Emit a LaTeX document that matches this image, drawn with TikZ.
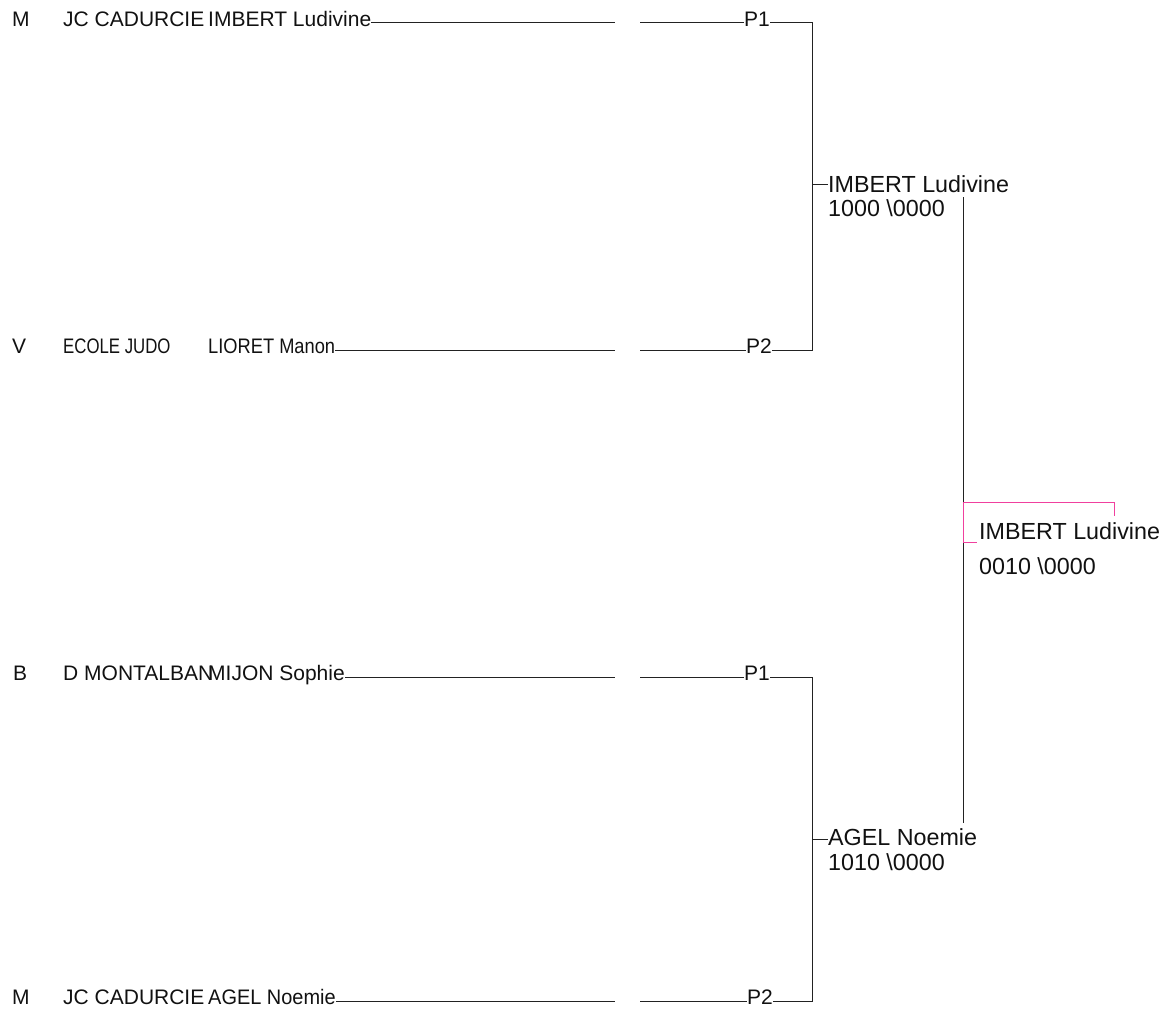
\documentclass[tikz,border=0pt]{standalone}
\usepackage{fontspec}
\setmainfont{Liberation Sans}
\usepackage{xcolor}
\usepackage{graphicx}
\usetikzlibrary{calc}
\definecolor{ink}{HTML}{111111}
\definecolor{wirecol}{HTML}{222222}
\definecolor{winpink}{HTML}{F0409E}
\tikzset{
  every node/.style={inner sep=0pt,anchor=base west,text=ink},
  rowtext/.style={font=\fontsize{21}{25}\selectfont},
  seed/.style={rowtext},
  club/.style={rowtext},
  fighter/.style={rowtext},
  pool/.style={rowtext},
  result/.style={font=\fontsize{23.3}{28}\selectfont},
  wire/.style={draw=wirecol,line width=1pt},
  winwire/.style={draw=winpink,line width=1pt}
}

\begin{document}
\begin{tikzpicture}[x=1pt,y=-1pt]
  \useasboundingbox (0,0) rectangle (1168,1012);

  % row 1
  \node[seed] (s1) at (12,26) {M};
  \node[club] (c1) at (63,26) {JC CADURCIE};
  \node[fighter] (f1) at (208,26) {IMBERT Ludivine};
  \coordinate (ga1) at (615,22.5); \coordinate (gb1) at (640,22.5);
  \node[pool] (p1) at (744,26) {P1};
  \coordinate (k1) at (812,22.5);

  % row 2
  \node[seed] (s2) at (12,353) {V};
  \node[club] (c2) at (63,353) {\scalebox{0.8}[1]{ECOLE JUDO}};
  \node[fighter] (f2) at (208,353) {\scalebox{0.87}[1]{LIORET Manon}};
  \coordinate (ga2) at (615,350); \coordinate (gb2) at (640,350);
  \node[pool] (p2) at (746,353) {P2};
  \coordinate (k2) at (812,350);

  % row 3
  \node[seed] (s3) at (13,680.5) {B};
  \node[club] (c3) at (63,680.5) {D MONTALBAN};
  \node[fighter] (f3) at (208,680.5) {MIJON Sophie};
  \coordinate (ga3) at (615,677.5); \coordinate (gb3) at (640,677.5);
  \node[pool] (p3) at (744,680.5) {P1};
  \coordinate (k3) at (812,677.5);

  % row 4
  \node[seed] (s4) at (12,1004.5) {M};
  \node[club] (c4) at (63,1004.5) {JC CADURCIE};
  \node[fighter] (f4) at (208,1004.5) {\scalebox{0.95}[1]{AGEL Noemie}};
  \coordinate (ga4) at (615,1001.5); \coordinate (gb4) at (640,1001.5);
  \node[pool] (p4) at (747,1004.5) {P2};
  \coordinate (k4) at (812,1001.5);

  \draw[wire] (f1.east |- ga1) -- (ga1); \draw[wire] (gb1) -- (p1.west |- gb1);
  \draw[wire] (f2.east |- ga2) -- (ga2); \draw[wire] (gb2) -- (p2.west |- gb2);
  \draw[wire] (f3.east |- ga3) -- (ga3); \draw[wire] (gb3) -- (p3.west |- gb3);
  \draw[wire] (f4.east |- ga4) -- (ga4); \draw[wire] (gb4) -- (p4.west |- gb4);

  % pool winners
  \node[result] (q1) at (828,192) {IMBERT Ludivine};
  \node[result] (qs1) at (828,216) {1000 \textbackslash0000};
  \node[result] (q2) at (828,845) {AGEL Noemie};
  \node[result] (qs2) at (828,870) {1010 \textbackslash0000};
  \coordinate (m1) at (812,184);
  \coordinate (m2) at (812,839);

  \draw[wire] (p1.east |- k1) -- (k1) -- (k2) -- (p2.east |- k2);
  \draw[wire] (p3.east |- k3) -- (k3) -- (k4) -- (p4.east |- k4);
  \draw[wire] (m1) -- (m1 -| q1.west);
  \draw[wire] (m2) -- (m2 -| q2.west);

  % final
  \coordinate (v1) at (963,197);
  \coordinate (v2) at (963,823);
  \draw[wire] (v1) -- (v2);

  \node[result] (w) at (979,539) {IMBERT Ludivine};
  \node[result] (ws) at (979,574) {0010 \textbackslash0000};
  \coordinate (r1) at (963,502);
  \coordinate (r2) at (1114,516);
  \coordinate (r3) at (963,542);
  \draw[winwire] (r1) -| (r2);
  \draw[winwire] (r1) -- (r3) -- ($(r3 -| w.west)+(-2,0)$);
\end{tikzpicture}
\end{document}
